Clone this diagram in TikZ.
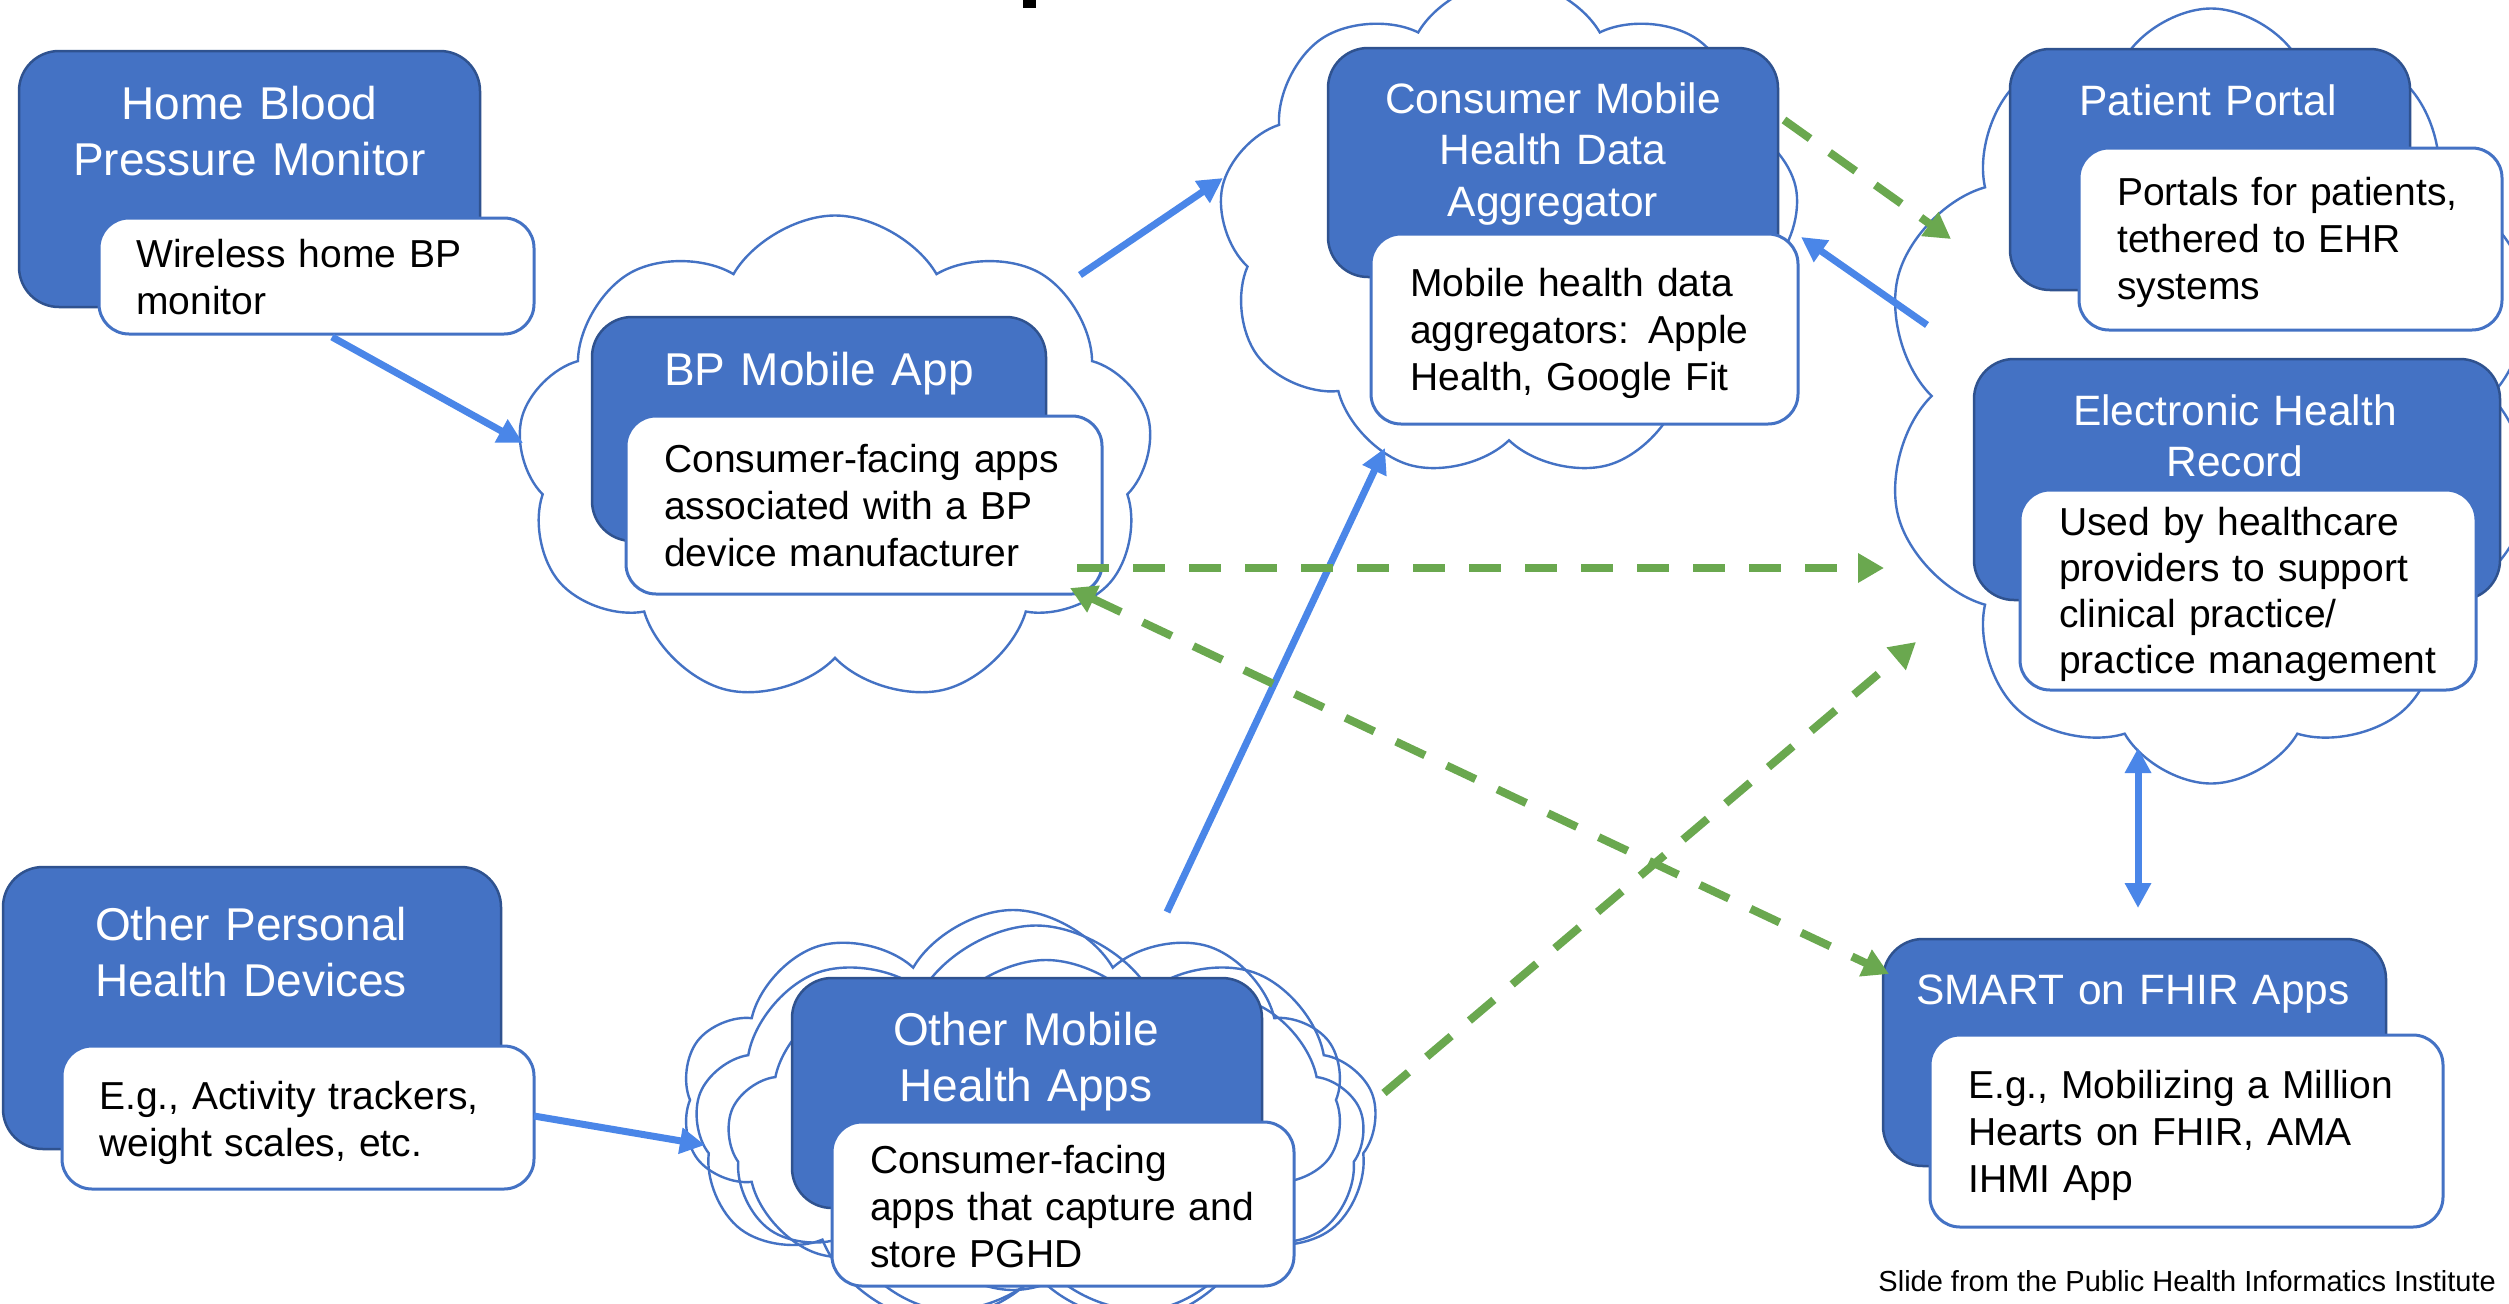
\documentclass[tikz,border=0pt]{standalone}
\usepackage{fontspec}
\setmainfont{Liberation Sans}
\usetikzlibrary{shapes.symbols,arrows.meta}
\definecolor{boxblue}{HTML}{4472C4}
\definecolor{boxedge}{HTML}{2F528F}
\definecolor{cloudline}{HTML}{4472C4}
\definecolor{arrowblue}{HTML}{4A86E8}
\definecolor{arrowgreen}{HTML}{6AA84F}
\begin{document}
\begin{tikzpicture}[x=1pt,y=-1pt,
  bluebox/.style={draw=boxedge, fill=boxblue, line width=2.5pt, rounded corners=40pt, inner sep=0pt},
  whitebox/.style={draw=boxblue, fill=white, line width=3pt, rounded corners=30pt, inner sep=0pt},
  cloudshape/.style={cloud, cloud puffs=9, cloud puff arc=120, cloud ignores aspect, draw=cloudline, line width=2.4pt, inner sep=0pt},
  titlebig/.style={text=white, align=center, inner sep=0pt, anchor=base, font=\fontsize{46}{56}\selectfont},
  titlesmall/.style={text=white, align=center, inner sep=0pt, anchor=base, font=\fontsize{42.5}{51.5}\selectfont},
  desctext/.style={text=black, align=left, inner sep=0pt, anchor=base west, font=\fontsize{39}{47}\selectfont},
  bluearrow/.style={draw=arrowblue, line width=7pt, -{Triangle[length=25pt,width=25pt]}},
  bluedouble/.style={draw=arrowblue, line width=7pt, {Triangle[length=25pt,width=25pt]}-{Triangle[length=25pt,width=25pt]}},
  greenarrow/.style={draw=arrowgreen, line width=8pt, dash pattern=on 32pt off 24pt, -{Triangle[length=26pt,width=28pt]}},
  greendouble/.style={draw=arrowgreen, line width=8pt, dash pattern=on 32pt off 24pt, {Triangle[length=26pt,width=28pt]}-{Triangle[length=26pt,width=28pt]}},
]
\useasboundingbox (0,0) rectangle (2509,1304);
\fill[white] (0,0) rectangle (2509,1304);
\clip (0,0) rectangle (2509,1304);

% title fragment at the top edge
\fill[black] (1023,0) rectangle (1036,8);

% clouds
\node[cloudshape, minimum width=636pt, minimum height=489pt] (bpcloud) at (835,460) {};
\node[cloudshape, minimum width=582pt, minimum height=500pt, shape border rotate=8] (cmcloud) at (1509,230) {};
\node[cloudshape, minimum width=658pt, minimum height=775pt, cloud puffs=10] (ehrcloud) at (2211,396) {};
\node[cloudshape, minimum width=664pt, minimum height=380pt, cloud puffs=10] (omcloudA) at (1013,1100) {};
\node[cloudshape, minimum width=682pt, minimum height=405pt, cloud puffs=9, shape border rotate=15] (omcloudB) at (1036,1128) {};
\node[cloudshape, minimum width=637pt, minimum height=360pt, cloud puffs=9, shape border rotate=30] (omcloudC) at (1046,1140) {};

% Home Blood Pressure Monitor
\node[bluebox, minimum width=461pt, minimum height=256pt] (homeb) at (249.5,179) {};
\node[whitebox, minimum width=435pt, minimum height=116pt] (homew) at (316.5,276) {};
\node[titlebig, text width=461pt] (homet) at (249.5,119) {Home Blood\\Pressure Monitor};
\node[desctext, text width=390pt] (homed) at (136,267) {Wireless home BP\\monitor};

% BP Mobile App
\node[bluebox, minimum width=454pt, minimum height=224pt] (bpb) at (819,429) {};
\node[whitebox, minimum width=476pt, minimum height=178pt] (bpw) at (864,505) {};
\node[titlebig, text width=454pt] (bpt) at (819,385) {BP Mobile App};
\node[desctext, text width=430pt] (bpd) at (664,472) {Consumer-facing apps\\associated with a BP\\device manufacturer};

% Consumer Mobile Health Data Aggregator
\node[bluebox, minimum width=450pt, minimum height=229pt] (cmb) at (1553,162.5) {};
\node[whitebox, minimum width=427pt, minimum height=190pt] (cmw) at (1584.5,329) {};
\node[titlesmall, text width=450pt] (cmt) at (1553,113) {Consumer Mobile\\Health Data\\Aggregator};
\node[desctext, text width=385pt] (cmd) at (1410,296) {Mobile health data\\aggregators: Apple\\Health, Google Fit};

% Patient Portal
\node[bluebox, minimum width=400pt, minimum height=241pt] (ppb) at (2210,169.5) {};
\node[whitebox, minimum width=423pt, minimum height=182pt] (ppw) at (2290.5,239) {};
\node[titlesmall, text width=400pt] (ppt) at (2208,115) {Patient Portal};
\node[desctext, text width=380pt] (ppd) at (2117,205) {Portals for patients,\\tethered to EHR\\systems};

% Electronic Health Record
\node[bluebox, minimum width=526pt, minimum height=241pt] (ehrb) at (2237,479.5) {};
\node[whitebox, minimum width=456pt, minimum height=200pt] (ehrw) at (2248,590) {};
\node[titlesmall, text width=526pt] (ehrt) at (2235,425) {Electronic Health\\Record};
\node[desctext, text width=410pt, font=\fontsize{39}{46.3}\selectfont] (ehrd) at (2059,535) {Used by healthcare\\providers to support\\clinical practice/\\practice management};

% Other Personal Health Devices
\node[bluebox, minimum width=498pt, minimum height=282pt] (opb) at (252,1008) {};
\node[whitebox, minimum width=472pt, minimum height=143pt] (opw) at (298,1117.5) {};
\node[titlebig, text width=498pt] (opt) at (251,940) {Other Personal\\Health Devices};
\node[desctext, text width=430pt] (opd) at (99,1109) {E.g., Activity trackers,\\weight scales, etc.};

% Other Mobile Health Apps
\node[bluebox, minimum width=470pt, minimum height=230pt] (omb) at (1027,1093) {};
\node[whitebox, minimum width=462pt, minimum height=164pt] (omw) at (1063,1204) {};
\node[titlebig, text width=470pt] (omt) at (1026,1045) {Other Mobile\\Health Apps};
\node[desctext, text width=420pt] (omd) at (870,1173) {Consumer-facing\\apps that capture and\\store PGHD};

% SMART on FHIR Apps
\node[bluebox, minimum width=503pt, minimum height=227pt] (smb) at (2134.5,1052.5) {};
\node[whitebox, minimum width=513pt, minimum height=192pt] (smw) at (2186.5,1131) {};
\node[titlesmall, text width=503pt] (smt) at (2133,1004) {SMART on FHIR Apps};
\node[desctext, text width=470pt] (smd) at (1968,1098) {E.g., Mobilizing a Million\\Hearts on FHIR, AMA\\IHMI App};

% footer
\node[inner sep=0pt, anchor=base east, font=\fontsize{29}{33}\selectfont] (footer) at (2496,1291) {Slide from the Public Health Informatics Institute};

% connector end points
\coordinate (a1s) at (332,337);   \coordinate (a1e) at (523,443);
\coordinate (a2s) at (1080,275);  \coordinate (a2e) at (1223,178);
\coordinate (a3s) at (1927,325);  \coordinate (a3e) at (1801,237);
\coordinate (a4s) at (1167,912);  \coordinate (a4e) at (1385,448);
\coordinate (a5s) at (534,1116);  \coordinate (a5e) at (705,1145);
\coordinate (a6s) at (2138,748);  \coordinate (a6e) at (2138,908);
\coordinate (g1s) at (1784,120);  \coordinate (g1e) at (1951,239);
\coordinate (g2s) at (1077,568);  \coordinate (g2e) at (1884,568);
\coordinate (g3s) at (1070,588);  \coordinate (g3e) at (1889,974);
\coordinate (g4s) at (1384,1093); \coordinate (g4e) at (1916,642);

% blue connectors
\draw[bluearrow] (a1s) -- (a1e);
\draw[bluearrow] (a2s) -- (a2e);
\draw[bluearrow] (a3s) -- (a3e);
\draw[bluearrow] (a4s) -- (a4e);
\draw[bluearrow] (a5s) -- (a5e);
\draw[bluedouble] (a6s) -- (a6e);

% green dashed connectors
\draw[greenarrow] (g1s) -- (g1e);
\draw[greenarrow] (g2s) -- (g2e);
\draw[greendouble] (g3s) -- (g3e);
\draw[greenarrow] (g4s) -- (g4e);
\end{tikzpicture}
\end{document}
